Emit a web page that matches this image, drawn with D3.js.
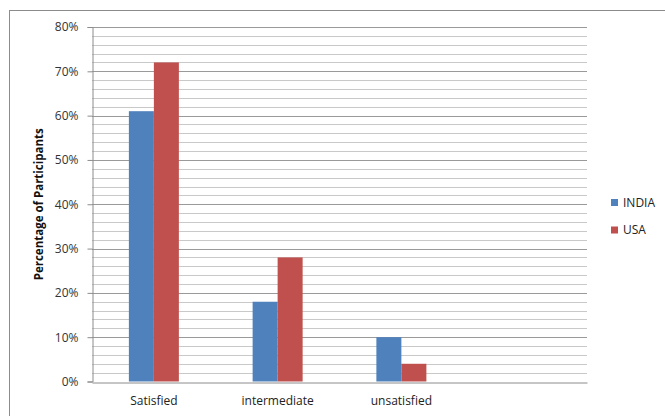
<!DOCTYPE html>
<html>
<head>
<meta charset="utf-8">
<script src="https://cdn.jsdelivr.net/npm/d3@7"></script>
<style>
  html, body { margin: 0; padding: 0; background: #fff; }
  svg { display: block; font-family: "Open Sans", "Liberation Sans", sans-serif; font-variant-ligatures: none; }
</style>
</head>
<body>
<svg id="chart" width="665" height="416"></svg>
<script>
// Survey results: share of participants per satisfaction level
const categories = ["Satisfied", "intermediate", "unsatisfied", ""];
const seriesNames = ["INDIA", "USA"];
const indiaValues = [0.61, 0.18, 0.10];
const usaValues = [0.72, 0.28, 0.04];
const yTicks = [0, 0.1, 0.2, 0.3, 0.4, 0.5, 0.6, 0.7, 0.8];
const colors = ["#4F81BD", "#C0504D"];

const svg = d3.select("#chart");
const plot = { left: 92, right: 587, top: 27, bottom: 381.5 };
const font = "'Open Sans', sans-serif";

// Outer chart frame
svg.append("rect")
  .attr("x", 9.5).attr("y", 10.5)
  .attr("width", 680).attr("height", 440)
  .attr("fill", "none").attr("stroke", "#8c8c8c").attr("stroke-width", 1);

const x = d3.scaleBand().domain(categories).range([plot.left, plot.right]);
const xInner = d3.scaleBand().domain(seriesNames).range([0, 50]);
const y = d3.scaleLinear().domain([0, 0.8]).range([plot.bottom, plot.top]);

// Minor gridlines every 2%
const minor = d3.range(0, 0.8001, 0.02).filter(v => Math.round(v * 100) % 10 !== 0);
svg.append("g").selectAll("line").data(minor).join("line")
  .attr("x1", plot.left).attr("x2", plot.right)
  .attr("y1", d => Math.round(y(d)) + 0.5).attr("y2", d => Math.round(y(d)) + 0.5)
  .attr("stroke", "#c9c9c9").attr("stroke-width", 1);

// Major gridlines every 10%
svg.append("g").selectAll("line").data(yTicks.slice(1)).join("line")
  .attr("x1", plot.left).attr("x2", plot.right)
  .attr("y1", d => Math.round(y(d)) + 0.5).attr("y2", d => Math.round(y(d)) + 0.5)
  .attr("stroke", "#9a9a9a").attr("stroke-width", 1);

// Bars
const rows = categories.slice(0, 3).map((c, i) => ({ cat: c, vals: [indiaValues[i], usaValues[i]] }));
const groups = svg.append("g").selectAll("g").data(rows).join("g")
  .attr("transform", d => `translate(${x(d.cat) + x.bandwidth() / 2 - 25},0)`);
groups.selectAll("rect").data(d => d.vals.map((v, j) => ({ name: seriesNames[j], v, j })))
  .join("rect")
  .attr("x", d => xInner(d.name))
  .attr("width", xInner.bandwidth())
  .attr("y", d => y(d.v))
  .attr("height", d => y(0) - y(d.v))
  .attr("fill", d => colors[d.j]);

// Y axis
const yAxis = d3.axisLeft(y).tickValues(yTicks).tickFormat(d3.format(".0%"))
  .tickSize(5).tickPadding(9);
const yg = svg.append("g").attr("transform", `translate(${plot.left + 0.5},0)`).call(yAxis);
yg.select(".domain").attr("stroke", "#8c8c8c");
yg.selectAll(".tick line").attr("stroke", "#8c8c8c");
yg.selectAll(".tick text").attr("fill", "#333").style("font-size", "12px")
  .style("font-family", font);

// X axis
const xAxis = d3.axisBottom(x).tickSize(0).tickPadding(14);
const xg = svg.append("g").attr("transform", `translate(0,${Math.round(plot.bottom) + 0.5})`).call(xAxis);
xg.select(".domain").attr("stroke", "#8c8c8c");
xg.selectAll(".tick text").attr("fill", "#222").style("font-size", "12px")
  .style("font-family", font);

// Y axis title
svg.append("text")
  .attr("transform", `translate(43,${(plot.top + plot.bottom) / 2}) rotate(-90)`)
  .attr("text-anchor", "middle")
  .style("font-size", "11.5px").style("font-weight", "bold")
  .attr("fill", "#111")
  .text("Percentage of Participants");

// Legend
const legend = svg.append("g").selectAll("g").data(seriesNames).join("g")
  .attr("transform", (d, i) => `translate(611,${199 + i * 27.5})`);
legend.append("rect").attr("width", 7).attr("height", 7)
  .attr("fill", (d, i) => colors[i]);
legend.append("text").attr("x", 12).attr("y", 7.5)
  .style("font-size", "12px").attr("fill", "#222")
  .text(d => d);
</script>
</body>
</html>
